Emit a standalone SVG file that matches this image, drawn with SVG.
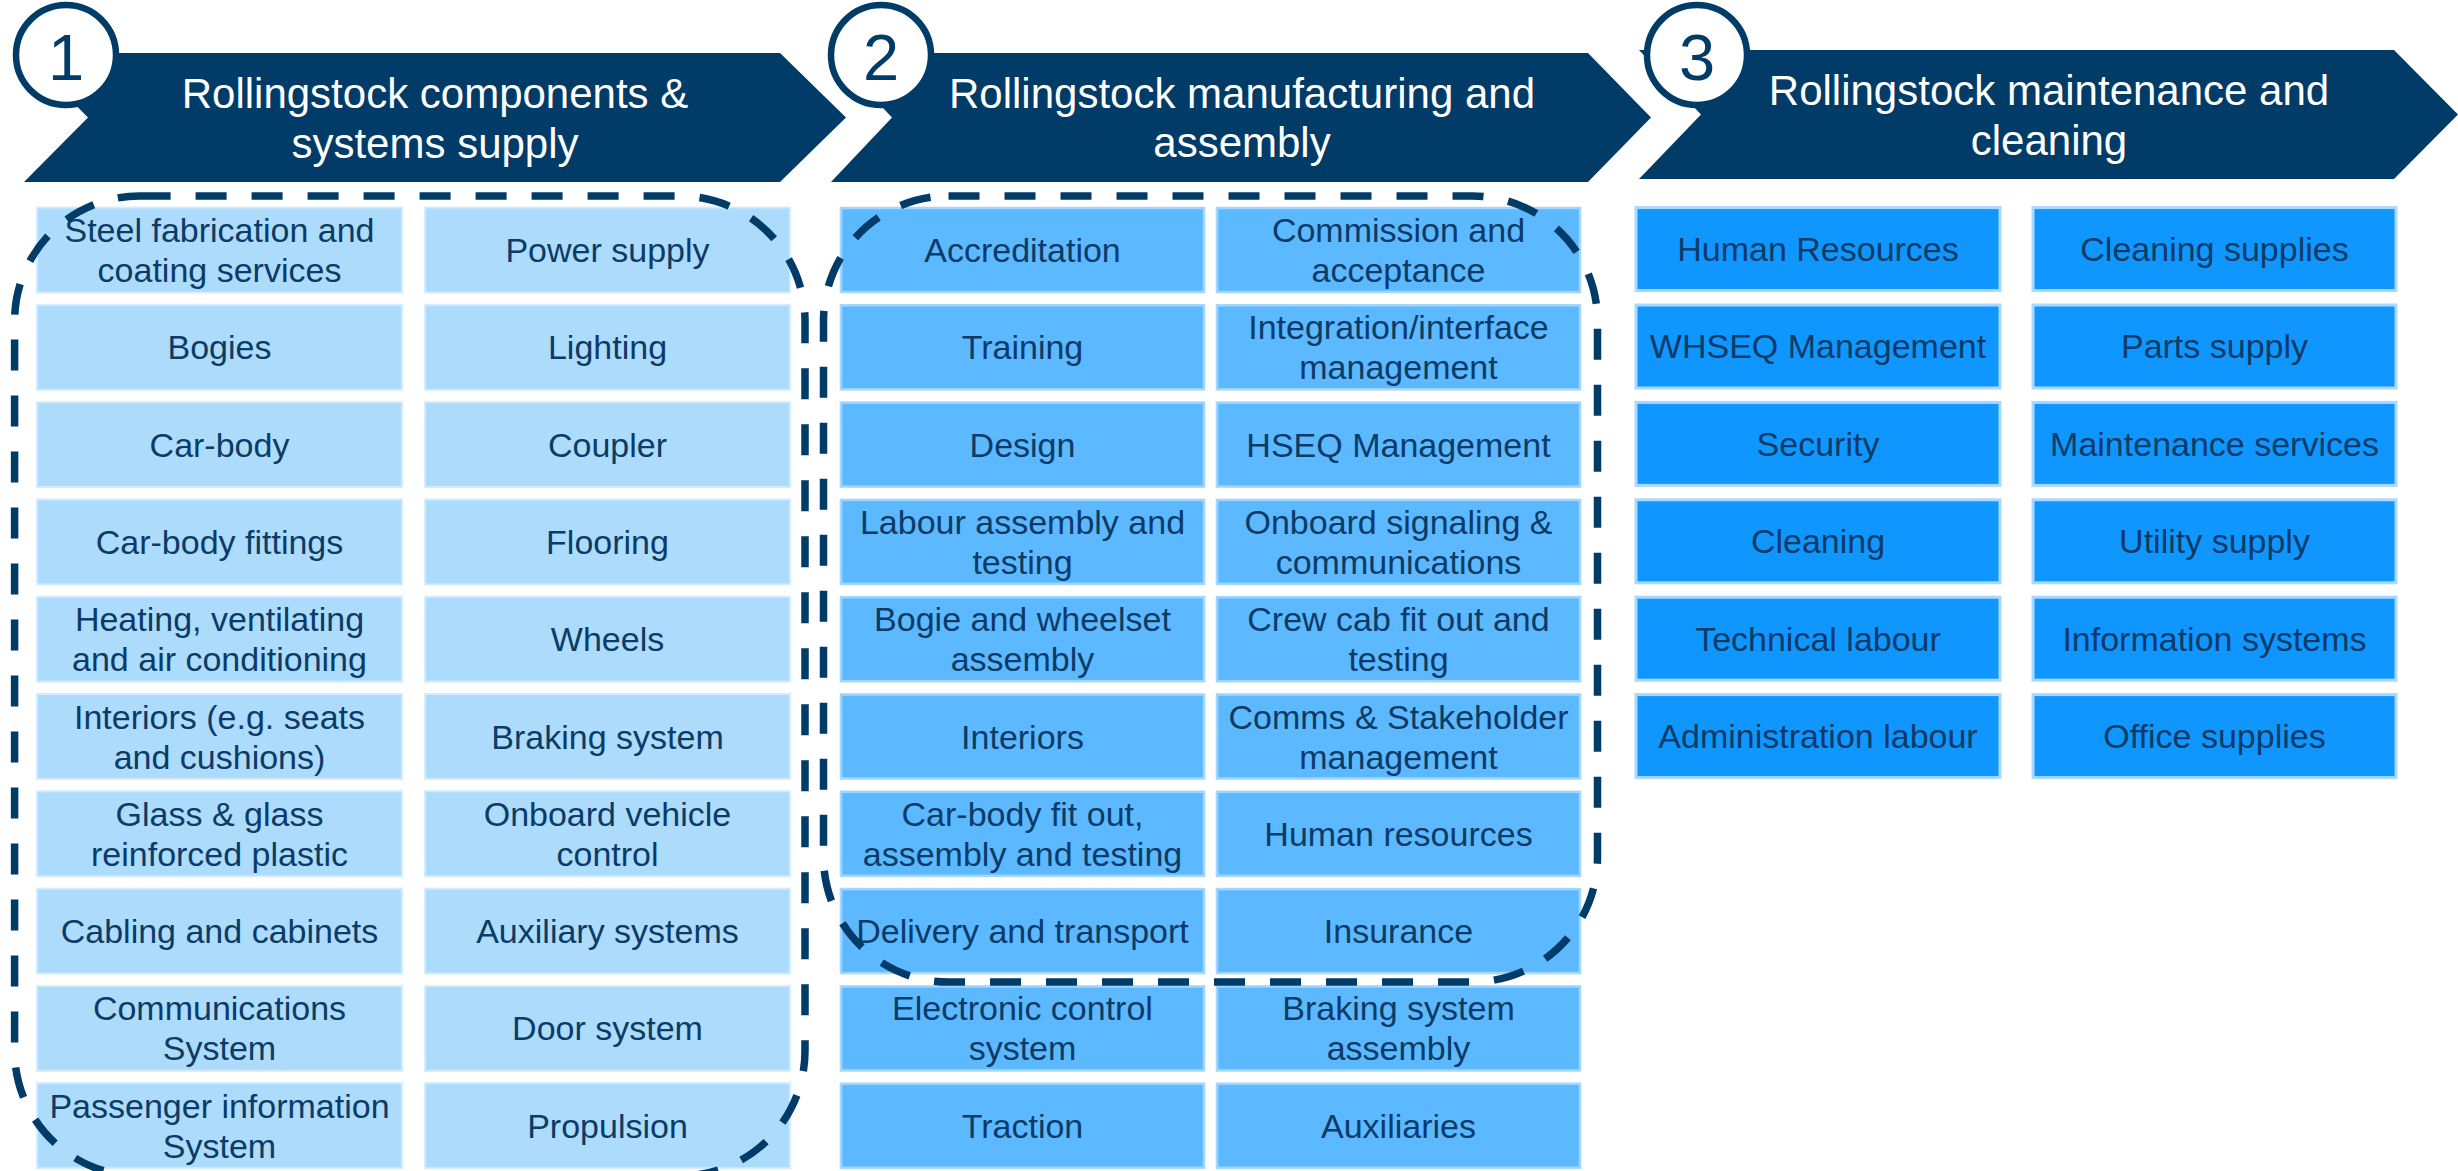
<svg xmlns="http://www.w3.org/2000/svg" width="2458" height="1171" viewBox="0 0 2458 1171">
<style>
text{font-family:"Liberation Sans",Arial,Helvetica,sans-serif}
.arrow{fill:#013B67}
.hd{fill:#FFFFFF;font-size:42px;text-anchor:middle}
.badge{fill:#FFFFFF;stroke:#013B67;stroke-width:6.5}
.num{fill:#013B67;font-size:65px;text-anchor:middle}
.b1{fill:#ADDBFC;stroke:#D4ECFE;stroke-width:2}
.b2{fill:#5CB8FF;stroke:#A3D6FF;stroke-width:2.5}
.b3{fill:#1096FF;stroke:#A9D9FF;stroke-width:3}
.t{fill:#0B3B66;font-size:34px;text-anchor:middle}
.dash{fill:none;stroke:#013B67;stroke-width:7.5;stroke-dasharray:31 25}
</style>
<rect width="2458" height="1171" fill="#FFFFFF"/>

<g id="stage1-header">
<polygon class="arrow" points="24,53 780,53 846,117.5 780,182 24,182 88,117.5"/>
<circle class="badge" cx="66" cy="55" r="50"/>
<text class="num" x="66" y="80">1</text>
<text class="hd" x="435" y="108">Rollingstock components &amp;</text>
<text class="hd" x="435" y="158">systems supply</text>
</g>
<g id="stage2-header">
<polygon class="arrow" points="831,53 1588,53 1651,117.5 1588,182 831,182 892,117.5"/>
<circle class="badge" cx="881" cy="55" r="50"/>
<text class="num" x="881" y="80">2</text>
<text class="hd" x="1242" y="108">Rollingstock manufacturing and</text>
<text class="hd" x="1242" y="157">assembly</text>
</g>
<g id="stage3-header">
<polygon class="arrow" points="1639,50 2394,50 2458,114.5 2394,179 1639,179 1701,114.5"/>
<circle class="badge" cx="1697" cy="55" r="50"/>
<text class="num" x="1697" y="80">3</text>
<text class="hd" x="2049" y="105">Rollingstock maintenance and</text>
<text class="hd" x="2049" y="155">cleaning</text>
</g>

<!-- Column 1 -->
<g id="c1-steel"><rect class="b1" x="37" y="207.5" width="365" height="85"/><text class="t" x="219.5" y="242">Steel fabrication and</text><text class="t" x="219.5" y="282">coating services</text></g>
<g id="c1-power"><rect class="b1" x="425" y="207.5" width="365" height="85"/><text class="t" x="607.5" y="262">Power supply</text></g>
<g id="c1-bogies"><rect class="b1" x="37" y="304.8" width="365" height="85"/><text class="t" x="219.5" y="359.3">Bogies</text></g>
<g id="c1-lighting"><rect class="b1" x="425" y="304.8" width="365" height="85"/><text class="t" x="607.5" y="359.3">Lighting</text></g>
<g id="c1-carbody"><rect class="b1" x="37" y="402.1" width="365" height="85"/><text class="t" x="219.5" y="456.6">Car-body</text></g>
<g id="c1-coupler"><rect class="b1" x="425" y="402.1" width="365" height="85"/><text class="t" x="607.5" y="456.6">Coupler</text></g>
<g id="c1-fittings"><rect class="b1" x="37" y="499.4" width="365" height="85"/><text class="t" x="219.5" y="553.9">Car-body fittings</text></g>
<g id="c1-flooring"><rect class="b1" x="425" y="499.4" width="365" height="85"/><text class="t" x="607.5" y="553.9">Flooring</text></g>
<g id="c1-hvac"><rect class="b1" x="37" y="596.7" width="365" height="85"/><text class="t" x="219.5" y="631.2">Heating, ventilating</text><text class="t" x="219.5" y="671.2">and air conditioning</text></g>
<g id="c1-wheels"><rect class="b1" x="425" y="596.7" width="365" height="85"/><text class="t" x="607.5" y="651.2">Wheels</text></g>
<g id="c1-interiors"><rect class="b1" x="37" y="694" width="365" height="85"/><text class="t" x="219.5" y="728.5">Interiors (e.g. seats</text><text class="t" x="219.5" y="768.5">and cushions)</text></g>
<g id="c1-braking"><rect class="b1" x="425" y="694" width="365" height="85"/><text class="t" x="607.5" y="748.5">Braking system</text></g>
<g id="c1-glass"><rect class="b1" x="37" y="791.3" width="365" height="85"/><text class="t" x="219.5" y="825.8">Glass &amp; glass</text><text class="t" x="219.5" y="865.8">reinforced plastic</text></g>
<g id="c1-vehicle-control"><rect class="b1" x="425" y="791.3" width="365" height="85"/><text class="t" x="607.5" y="825.8">Onboard vehicle</text><text class="t" x="607.5" y="865.8">control</text></g>
<g id="c1-cabling"><rect class="b1" x="37" y="888.6" width="365" height="85"/><text class="t" x="219.5" y="943.1">Cabling and cabinets</text></g>
<g id="c1-auxiliary"><rect class="b1" x="425" y="888.6" width="365" height="85"/><text class="t" x="607.5" y="943.1">Auxiliary systems</text></g>
<g id="c1-comms"><rect class="b1" x="37" y="985.9" width="365" height="85"/><text class="t" x="219.5" y="1020.4">Communications</text><text class="t" x="219.5" y="1060.4">System</text></g>
<g id="c1-door"><rect class="b1" x="425" y="985.9" width="365" height="85"/><text class="t" x="607.5" y="1040.4">Door system</text></g>
<g id="c1-pis"><rect class="b1" x="37" y="1083.2" width="365" height="85"/><text class="t" x="219.5" y="1117.7">Passenger information</text><text class="t" x="219.5" y="1157.7">System</text></g>
<g id="c1-propulsion"><rect class="b1" x="425" y="1083.2" width="365" height="85"/><text class="t" x="607.5" y="1137.7">Propulsion</text></g>

<!-- Column 2 -->
<g id="c2-accreditation"><rect class="b2" x="841" y="208" width="363" height="84"/><text class="t" x="1022.5" y="262">Accreditation</text></g>
<g id="c2-commission"><rect class="b2" x="1217" y="208" width="363" height="84"/><text class="t" x="1398.5" y="242">Commission and</text><text class="t" x="1398.5" y="282">acceptance</text></g>
<g id="c2-training"><rect class="b2" x="841" y="305.3" width="363" height="84"/><text class="t" x="1022.5" y="359.3">Training</text></g>
<g id="c2-integration"><rect class="b2" x="1217" y="305.3" width="363" height="84"/><text class="t" x="1398.5" y="339.3">Integration/interface</text><text class="t" x="1398.5" y="379.3">management</text></g>
<g id="c2-design"><rect class="b2" x="841" y="402.6" width="363" height="84"/><text class="t" x="1022.5" y="456.6">Design</text></g>
<g id="c2-hseq"><rect class="b2" x="1217" y="402.6" width="363" height="84"/><text class="t" x="1398.5" y="456.6">HSEQ Management</text></g>
<g id="c2-labour"><rect class="b2" x="841" y="499.9" width="363" height="84"/><text class="t" x="1022.5" y="533.9">Labour assembly and</text><text class="t" x="1022.5" y="573.9">testing</text></g>
<g id="c2-signaling"><rect class="b2" x="1217" y="499.9" width="363" height="84"/><text class="t" x="1398.5" y="533.9">Onboard signaling &amp;</text><text class="t" x="1398.5" y="573.9">communications</text></g>
<g id="c2-bogie-assembly"><rect class="b2" x="841" y="597.2" width="363" height="84"/><text class="t" x="1022.5" y="631.2">Bogie and wheelset</text><text class="t" x="1022.5" y="671.2">assembly</text></g>
<g id="c2-crew-cab"><rect class="b2" x="1217" y="597.2" width="363" height="84"/><text class="t" x="1398.5" y="631.2">Crew cab fit out and</text><text class="t" x="1398.5" y="671.2">testing</text></g>
<g id="c2-interiors"><rect class="b2" x="841" y="694.5" width="363" height="84"/><text class="t" x="1022.5" y="748.5">Interiors</text></g>
<g id="c2-stakeholder"><rect class="b2" x="1217" y="694.5" width="363" height="84"/><text class="t" x="1398.5" y="728.5">Comms &amp; Stakeholder</text><text class="t" x="1398.5" y="768.5">management</text></g>
<g id="c2-carbody-fitout"><rect class="b2" x="841" y="791.8" width="363" height="84"/><text class="t" x="1022.5" y="825.8">Car-body fit out,</text><text class="t" x="1022.5" y="865.8">assembly and testing</text></g>
<g id="c2-hr"><rect class="b2" x="1217" y="791.8" width="363" height="84"/><text class="t" x="1398.5" y="845.8">Human resources</text></g>
<g id="c2-delivery"><rect class="b2" x="841" y="889.1" width="363" height="84"/><text class="t" x="1022.5" y="943.1">Delivery and transport</text></g>
<g id="c2-insurance"><rect class="b2" x="1217" y="889.1" width="363" height="84"/><text class="t" x="1398.5" y="943.1">Insurance</text></g>
<g id="c2-electronic"><rect class="b2" x="841" y="986.4" width="363" height="84"/><text class="t" x="1022.5" y="1020.4">Electronic control</text><text class="t" x="1022.5" y="1060.4">system</text></g>
<g id="c2-braking-assembly"><rect class="b2" x="1217" y="986.4" width="363" height="84"/><text class="t" x="1398.5" y="1020.4">Braking system</text><text class="t" x="1398.5" y="1060.4">assembly</text></g>
<g id="c2-traction"><rect class="b2" x="841" y="1083.7" width="363" height="84"/><text class="t" x="1022.5" y="1137.7">Traction</text></g>
<g id="c2-auxiliaries"><rect class="b2" x="1217" y="1083.7" width="363" height="84"/><text class="t" x="1398.5" y="1137.7">Auxiliaries</text></g>

<!-- Column 3 -->
<g id="c3-hr"><rect class="b3" x="1636" y="207.6" width="364" height="83"/><text class="t" x="1818" y="261">Human Resources</text></g>
<g id="c3-cleaning-supplies"><rect class="b3" x="2033" y="207.6" width="363" height="83"/><text class="t" x="2214.5" y="261">Cleaning supplies</text></g>
<g id="c3-whseq"><rect class="b3" x="1636" y="305" width="364" height="83"/><text class="t" x="1818" y="358.4">WHSEQ Management</text></g>
<g id="c3-parts"><rect class="b3" x="2033" y="305" width="363" height="83"/><text class="t" x="2214.5" y="358.4">Parts supply</text></g>
<g id="c3-security"><rect class="b3" x="1636" y="402.4" width="364" height="83"/><text class="t" x="1818" y="455.8">Security</text></g>
<g id="c3-maintenance"><rect class="b3" x="2033" y="402.4" width="363" height="83"/><text class="t" x="2214.5" y="455.8">Maintenance services</text></g>
<g id="c3-cleaning"><rect class="b3" x="1636" y="499.8" width="364" height="83"/><text class="t" x="1818" y="553.2">Cleaning</text></g>
<g id="c3-utility"><rect class="b3" x="2033" y="499.8" width="363" height="83"/><text class="t" x="2214.5" y="553.2">Utility supply</text></g>
<g id="c3-technical"><rect class="b3" x="1636" y="597.2" width="364" height="83"/><text class="t" x="1818" y="650.6">Technical labour</text></g>
<g id="c3-info"><rect class="b3" x="2033" y="597.2" width="363" height="83"/><text class="t" x="2214.5" y="650.6">Information systems</text></g>
<g id="c3-admin"><rect class="b3" x="1636" y="694.6" width="364" height="83"/><text class="t" x="1818" y="748">Administration labour</text></g>
<g id="c3-office"><rect class="b3" x="2033" y="694.6" width="363" height="83"/><text class="t" x="2214.5" y="748">Office supplies</text></g>

<g id="connectors">
<rect class="dash" x="14.6" y="196" width="790.4" height="980" rx="125" ry="125"/>
<rect class="dash" x="823.5" y="196" width="774" height="786" rx="125" ry="125"/>
</g>
</svg>
